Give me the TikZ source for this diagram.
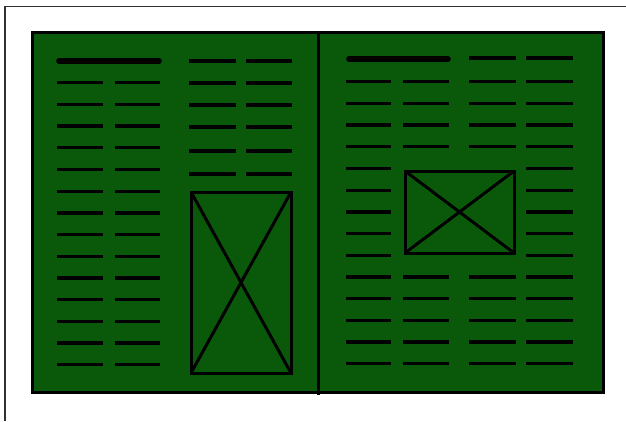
\documentclass[tikz,border=0pt]{standalone}
\definecolor{pagegreen}{RGB}{10,88,10}
\definecolor{rulegray}{RGB}{50,50,50}
\begin{document}
\begin{tikzpicture}[x=1pt,y=-1pt,
  txt/.style={line width=3.3pt},
  headbar/.style={line width=5.6pt, line cap=round},
  frameline/.style={line width=3pt},
  outerline/.style={line width=1.8pt, draw=rulegray}]
\useasboundingbox (0,0) rectangle (626,421);
% outer border (top and left)
\draw[outerline] (5,421) -- (5,6.5) -- (626,6.5);
% green spread
\fill[pagegreen] (32,32) rectangle (603,392);
\draw[frameline] (32,32) rectangle (603,392);
% gutter
\draw[frameline] (318,32) -- (318,395);
% ---- left page ----
\draw[headbar] (59,61) -- (159,61);
\foreach \k in {1,...,14}{
  \draw[txt] (57,{61+21.7*\k}) -- (103,{61+21.7*\k});
  \draw[txt] (115,{61+21.7*\k}) -- (160,{61+21.7*\k});
}
\foreach \y in {61,83,105,127,151,174}{
  \draw[txt] (189,\y) -- (236,\y);
  \draw[txt] (246,\y) -- (292,\y);
}
\draw[frameline] (191,192) rectangle (291,373);
\draw[frameline] (191,192) -- (291,373);
\draw[frameline] (291,192) -- (191,373);
% ---- right page ----
\draw[headbar] (349,59) -- (448,59);
\draw[txt] (469,58) -- (516,58);
\draw[txt] (526,58) -- (573,58);
\foreach \k in {1,...,14}{
  \draw[txt] (346,{60+21.7*\k}) -- (391,{60+21.7*\k});
  \draw[txt] (526,{60+21.7*\k}) -- (573,{60+21.7*\k});
}
\foreach \k in {1,2,3,4,10,11,12,13,14}{
  \draw[txt] (403,{60+21.7*\k}) -- (449,{60+21.7*\k});
  \draw[txt] (469,{60+21.7*\k}) -- (516,{60+21.7*\k});
}
\draw[frameline] (405,171) rectangle (514,253);
\draw[frameline] (405,171) -- (514,253);
\draw[frameline] (514,171) -- (405,253);
\end{tikzpicture}
\end{document}
